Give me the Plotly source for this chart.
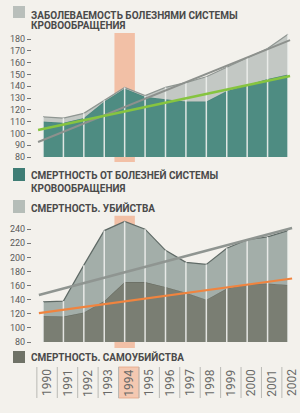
import plotly.graph_objects as go

years = list(range(1990, 2003))
year_labels = [str(y) for y in years]

# top chart: index values
incidence = [114, 113, 117, 128, 139, 132, 139, 143, 148, 156, 164, 172, 184]      # заболеваемость
circ_mortality = [110, 109, 113, 127, 138, 131, 129, 127, 127, 136, 141, 146, 150]  # смертность от болезней
trend_top_x = [1989.76, 2002.1]
trend_green = [102.8, 148.6]
trend_grey_top = [92.7, 179.0]

# bottom chart
homicide = [137, 138, 189, 238, 251, 240, 210, 193, 190, 213, 225, 229, 238]   # убийства
suicide = [117, 116, 122, 138, 165, 165, 158, 150, 140, 156, 162, 163, 161]    # самоубийства
trend_bot_x = [1989.8, 2002.2]
trend_grey_bot = [146.7, 241.7]
trend_orange = [121.0, 170.0]

top_ticks = list(range(80, 181, 10))
bot_ticks = list(range(80, 241, 20))
highlight_year = 1994
base = 80

BG = "#f3f1ec"
TEAL = "#4e8c82"
LGREY = "#c3c8c4"
UPPER = "#a3aea9"
LOWER = "#7a7e73"
SALMON = "#f2c0a6"
TXT = "#4a4a4a"
FONT = "Roboto"

fig = go.Figure()

def add_area(xa, ya, low, high, color, edge):
    fig.add_trace(go.Scatter(x=years, y=low, mode="lines", line=dict(width=0, color=edge),
                             xaxis=xa, yaxis=ya, hoverinfo="skip", showlegend=False))
    fig.add_trace(go.Scatter(x=years, y=high, mode="lines", fill="tonexty", fillcolor=color,
                             line=dict(width=1.2, color=edge), xaxis=xa, yaxis=ya,
                             hoverinfo="skip", showlegend=False))

# top chart areas
add_area("x", "y", [base] * len(years), circ_mortality, TEAL, "#4a857b")
add_area("x", "y", circ_mortality, incidence, LGREY, "#8f9692")

# bottom chart areas
add_area("x2", "y2", [base] * len(years), suicide, LOWER, "#6a6e64")
add_area("x2", "y2", suicide, homicide, UPPER, "#5f6a66")

# vertical year lines across areas
def vlines(xa, ya, tops):
    xs, ys = [], []
    for yr, t in zip(years, tops):
        xs += [yr, yr, None]
        ys += [base, t, None]
    fig.add_trace(go.Scatter(x=xs, y=ys, mode="lines", line=dict(color="rgba(238,240,237,0.9)", width=1.5),
                             xaxis=xa, yaxis=ya, hoverinfo="skip", showlegend=False))

vlines("x", "y", incidence)
vlines("x2", "y2", homicide)

# trend lines
fig.add_trace(go.Scatter(x=trend_top_x, y=trend_grey_top, mode="lines", line=dict(color="#8d918d", width=2),
                         xaxis="x", yaxis="y", hoverinfo="skip", showlegend=False))
fig.add_trace(go.Scatter(x=trend_top_x, y=trend_green, mode="lines", line=dict(color="#86c440", width=2.5),
                         xaxis="x", yaxis="y", hoverinfo="skip", showlegend=False))
fig.add_trace(go.Scatter(x=trend_bot_x, y=trend_grey_bot, mode="lines", line=dict(color="#8f9591", width=2.5),
                         xaxis="x2", yaxis="y2", hoverinfo="skip", showlegend=False))
fig.add_trace(go.Scatter(x=trend_bot_x, y=trend_orange, mode="lines", line=dict(color="#f0843f", width=2.2),
                         xaxis="x2", yaxis="y2", hoverinfo="skip", showlegend=False))

shapes = []
# 1994 highlight bands
shapes.append(dict(type="rect", xref="x", yref="y", x0=highlight_year - 0.5, x1=highlight_year + 0.5,
                   y0=75.8, y1=185, fillcolor=SALMON, line=dict(width=0), layer="below"))
shapes.append(dict(type="rect", xref="x2", yref="y2", x0=highlight_year - 0.5, x1=highlight_year + 0.5,
                   y0=71.5, y1=259, fillcolor=SALMON, line=dict(width=0), layer="below"))

# year label separators and highlight box
lab_y0, lab_y1 = 15 / 413, 46 / 413
shapes.append(dict(type="rect", xref="x2", yref="paper", x0=highlight_year - 0.3, x1=highlight_year + 0.7,
                   y0=lab_y0, y1=lab_y1, fillcolor="#f4c8b1", line=dict(width=0.8, color="#e6a584"), layer="below"))
for yr in years:
    shapes.append(dict(type="line", xref="x2", yref="paper", x0=yr - 0.3, x1=yr - 0.3,
                       y0=lab_y0, y1=lab_y1, line=dict(color="#b9b9b4", width=1)))

annotations = []
for yr, lab in zip(years, year_labels):
    annotations.append(dict(x=yr + 0.2, y=(413 - 383) / 413, xref="x2", yref="paper", text=lab,
                            textangle=-90, showarrow=False, xanchor="center", yanchor="middle",
                            font=dict(family=FONT, size=12, color="#6a6a68")))

# legend blocks
def legend_block(ypx_sq0, ypx_sq1, color, lines, ypx_lines):
    shapes.append(dict(type="rect", xref="paper", yref="paper", x0=13 / 300, x1=25 / 300,
                       y0=(413 - ypx_sq1) / 413, y1=(413 - ypx_sq0) / 413, fillcolor=color,
                       line=dict(width=0)))
    for t, yp in zip(lines, ypx_lines):
        annotations.append(dict(x=29 / 300, y=(413 - yp) / 413, xref="paper", yref="paper",
                                text="<b>" + t + "</b>", showarrow=False, xanchor="left", yanchor="middle",
                                font=dict(family=FONT, size=10, color=TXT)))

legend_block(6, 18, "#b9bfbb", ["ЗАБОЛЕВАЕМОСТЬ БОЛЕЗНЯМИ СИСТЕМЫ", "КРОВООБРАЩЕНИЯ"], [15, 26])
legend_block(168, 181, "#3f7d75", ["СМЕРТНОСТЬ ОТ БОЛЕЗНЕЙ СИСТЕМЫ", "КРОВООБРАЩЕНИЯ"], [175, 188])
legend_block(200, 213, "#b5bdb8", ["СМЕРТНОСТЬ. УБИЙСТВА"], [208])
legend_block(351, 363, "#6f7267", ["СМЕРТНОСТЬ. САМОУБИЙСТВА"], [357])

xr = [1990 - 43 / 20.42, 2002 + 12 / 20.42]
yax = dict(anchor="free", position=31 / 300, showgrid=False, zeroline=False, showline=False,
           ticks="outside", ticklen=4, tickwidth=1, tickcolor="#777",
           tickfont=dict(family=FONT, size=9, color="#5a5a5a"), fixedrange=True)

fig.update_layout(
    width=300, height=413, margin=dict(l=0, r=0, t=0, b=0),
    paper_bgcolor=BG, plot_bgcolor="rgba(0,0,0,0)",
    xaxis=dict(domain=[0, 1], range=xr, visible=False, anchor="y"),
    xaxis2=dict(domain=[0, 1], range=xr, visible=False, anchor="y2"),
    yaxis=dict(domain=[(413 - 162) / 413, (413 - 30) / 413], range=[75.76, 187.63],
               tickvals=top_ticks, **yax),
    yaxis2=dict(domain=[(413 - 348) / 413, (413 - 215) / 413], range=[71.49, 260.1],
                tickvals=bot_ticks, **yax),
    shapes=shapes, annotations=annotations, showlegend=False,
)

fig.write_html("out.html")
